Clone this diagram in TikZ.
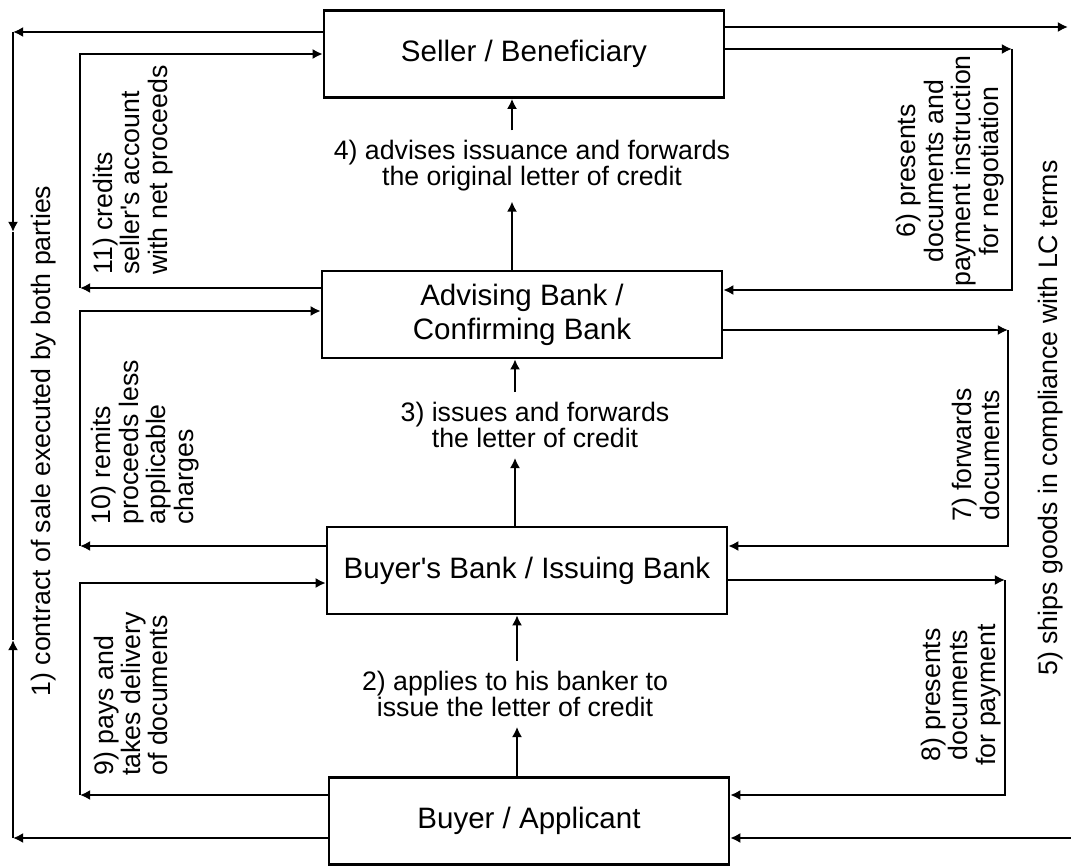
\documentclass[tikz,border=0pt]{standalone}
\usepackage{fontspec}
\setmainfont{Liberation Sans}
\usetikzlibrary{
    arrows.meta,
    calc
}
\tikzset{
  every path/.style={
    black,
    line width=1.45pt
  },
  box/.style={
    draw,
    rectangle,
    minimum width=8cm,
    minimum height=1.74cm,
    inner sep=0pt,
    align=center,
    font=\fontsize{16.8}{19.4}\selectfont
  },
  lab/.style={
    align=center,
    inner xsep=0pt,
    inner ysep=5pt,
    font=\fontsize{15.2}{14.8}\selectfont
  },
  vlab/.style={
    rotate=90,
    inner sep=0pt,
    font=\fontsize{15.2}{15.6}\selectfont
  },
  arr/.style={
    -{Latex[length=5.8pt,width=5.8pt]}
  }
}

\begin{document}
\begin{tikzpicture}[x=0.02cm,y=-0.02cm]
    \useasboundingbox (0,0) rectangle (1071,865);

    % 当事者と銀行
    \node[box] (S) at (524,54) {Seller / Beneficiary};
    \node[box] (AB) at (522,314.5) {Advising Bank /\\Confirming Bank};
    \node[box] (IB) at (527,570.5) {Buyer\textquotesingle s Bank / Issuing Bank};
    \node[box] (B) at (529,821) {Buyer / Applicant};

    % 中央の流れ 2) 3) 4)
    \node[lab] (L4) at (532,166) {4) advises issuance and forwards\\the original letter of credit};
    \node[lab] (L3) at (535,425) {3) issues and forwards\\the letter of credit};
    \node[lab] (L2) at (515,694) {2) applies to his banker to\\issue the letter of credit};
    \coordinate (x4) at (512,0);
    \coordinate (x3) at (515,0);
    \coordinate (x2) at (517,0);
    \draw[arr] (AB.north -| x4) -- (L4.south -| x4);
    \draw[arr] (L4.north -| x4) -- (S.south -| x4);
    \draw[arr] (IB.north -| x3) -- (L3.south -| x3);
    \draw[arr] (L3.north -| x3) -- (AB.south -| x3);
    \draw[arr] (B.north -| x2) -- (L2.south -| x2);
    \draw[arr] (L2.north -| x2) -- (IB.south -| x2);

    % 左側の戻り 9) 10) 11)
    \coordinate (c11) at (80,288);
    \coordinate (d11) at (80,54);
    \draw[arr] (AB.west |- c11) -- (c11);
    \draw[arr] (c11) -- (d11) -- (S.west |- d11);
    \coordinate (c10) at (80,546);
    \coordinate (d10) at (80,311);
    \draw[arr] (IB.west |- c10) -- (c10);
    \draw[arr] (c10) -- (d10) -- (AB.west |- d10);
    \coordinate (c9) at (80,795);
    \coordinate (d9) at (80,583);
    \draw[arr] (B.west |- c9) -- (c9);
    \draw[arr] (c9) -- (d9) -- (IB.west |- d9);
    \node[vlab,align=left] (L11) at (133,170) {11) credits\\seller\textquotesingle s account\\with net proceeds};
    \node[vlab,align=left] (L10) at (145,442) {10) remits\\proceeds less\\applicable\\charges};
    \node[vlab,align=left] (L9) at (131,694) {9) pays and\\takes delivery\\of documents};

    % 右側の書類 6) 7) 8)
    \coordinate (c6) at (1012,49);
    \coordinate (d6) at (1012,290);
    \draw[arr] (S.east |- c6) -- (c6);
    \draw[arr] (c6) -- (d6) -- (AB.east |- d6);
    \coordinate (c7) at (1008,330);
    \coordinate (d7) at (1008,546);
    \draw[arr] (AB.east |- c7) -- (c7);
    \draw[arr] (c7) -- (d7) -- (IB.east |- d7);
    \coordinate (c8) at (1005,580);
    \coordinate (d8) at (1005,795);
    \draw[arr] (IB.east |- c8) -- (c8);
    \draw[arr] (c8) -- (d8) -- (B.east |- d8);
    \node[vlab,align=center] (L6) at (950,171) {6) presents\\documents and\\payment instruction\\for negotiation};
    \node[vlab,align=center] (L7) at (976,455) {7) forwards\\documents};
    \node[vlab,align=center] (L8) at (961,695) {8) presents\\documents\\for payment};

    % 外側 1) 契約 と 5) 船積み
    \coordinate (o1) at (13,32);
    \coordinate (p1) at (13,838);
    \coordinate (m1) at (13,232);
    \coordinate (n1) at (13,640);
    \draw[arr] (S.west |- o1) -- (o1);
    \draw[arr] (o1) -- (m1);
    \draw (m1) -- (n1);
    \draw[arr] (B.west |- p1) -- (p1);
    \draw[arr] (p1) -- (n1);
    \node[vlab] (L1) at (44,441) {1) contract of sale executed by both parties};
    \coordinate (o5) at (1068,27);
    \coordinate (p5) at (1072,838);
    \draw[arr] (S.east |- o5) -- (o5);
    \draw[arr] (p5) -- (B.east |- p5);
    \node[vlab] (L5) at (1051,418) {5) ships goods in compliance with LC terms};
\end{tikzpicture}
\end{document}
